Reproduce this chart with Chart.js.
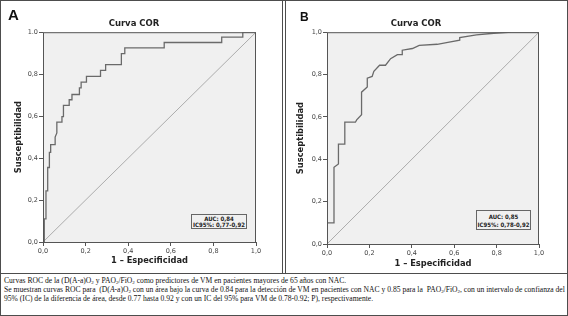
<!DOCTYPE html>
<html><head><meta charset="utf-8">
<script src="https://cdn.jsdelivr.net/npm/chart.js@4.4.1/dist/chart.umd.min.js"></script>
<style>
html,body{margin:0;padding:0;background:#fff;}
#wrap{position:relative;width:568px;height:316px;overflow:hidden;}
.ln{position:absolute;background:#4d4d4d;}
canvas{position:absolute;}
.letter{position:absolute;font-family:"Liberation Sans",Arial,sans-serif;font-weight:bold;color:#111;line-height:1;}
.auc{position:absolute;background:#f0f0f0;border:1px solid #666;box-sizing:border-box;font-family:"DejaVu Sans Condensed","DejaVu Sans",sans-serif;font-weight:bold;font-size:6px;text-align:center;color:#222;white-space:nowrap;}
.cap{position:absolute;left:4px;top:277px;font-family:"Liberation Serif","Times New Roman",serif;font-size:7.6px;line-height:8.8px;white-space:nowrap;color:#111;}
.cap sub{font-size:5px;vertical-align:-1px;line-height:0;}
</style></head>
<body>
<div id="wrap">
  <div class="ln" style="left:0;top:0;width:568px;height:1px"></div>
  <div class="ln" style="left:0;top:315px;width:568px;height:1px"></div>
  <div class="ln" style="left:0;top:0;width:1px;height:316px"></div>
  <div class="ln" style="left:567px;top:0;width:1px;height:316px"></div>
  <div class="ln" style="left:282px;top:0;width:1px;height:273px"></div>
  <div class="ln" style="left:285px;top:0;width:1px;height:273px"></div>
  <div class="ln" style="left:0;top:273px;width:568px;height:1px"></div>

  <canvas id="cA" width="280" height="270" style="left:1px;top:1px;width:280px;height:270px"></canvas>
  <canvas id="cB" width="281" height="270" style="left:286px;top:1px;width:281px;height:270px"></canvas>

  <div class="letter" style="left:8px;top:7px;font-size:15px">A</div>
  <div class="letter" style="left:300px;top:11px;font-size:12px">B</div>

  <div class="auc" style="left:191px;top:214px;width:56px;height:15px;line-height:6.5px;padding-top:0.5px">AUC: 0,84<br>IC95%: 0,77-0,92</div>
  <div class="auc" style="left:476px;top:210px;width:55px;height:20px;line-height:7.5px;padding-top:2px">AUC: 0,85<br>IC95%: 0,78-0,92</div>

  <div class="cap">Curvas ROC de la (D(A-a)O<sub>2</sub> y PAO<sub>2</sub>/FiO<sub>2</sub> como predictores de VM en pacientes mayores de 65 años con NAC.<br>Se muestran curvas ROC para&nbsp; (D(<i>A</i>-a)O<sub>2</sub> con un área bajo la curva de 0.84 para la detección de VM en pacientes con NAC y 0.85 para la&nbsp; PAO<sub>2</sub>/FiO<sub>2</sub>, con un intervalo de confianza del<br>95% (IC) de la diferencia de área, desde 0.77 hasta 0.92 y con un IC del 95% para VM de 0.78-0.92; P), respectivamente.</div>
</div>
<script>
// ---- data ----
const rocA_x = [0, 0.006, 0.006, 0.014, 0.014, 0.022, 0.022, 0.030, 0.030, 0.036, 0.036, 0.057, 0.057, 0.065, 0.065, 0.089, 0.089, 0.096, 0.096, 0.123, 0.123, 0.136, 0.136, 0.171, 0.171, 0.179, 0.179, 0.204, 0.204, 0.270, 0.270, 0.294, 0.294, 0.368, 0.368, 0.384, 0.384, 0.569, 0.569, 0.839, 0.839, 0.938, 0.938, 1.0];
const rocA_y = [0, 0.000, 0.110, 0.110, 0.244, 0.244, 0.355, 0.355, 0.427, 0.427, 0.464, 0.464, 0.500, 0.520, 0.571, 0.571, 0.598, 0.598, 0.651, 0.651, 0.678, 0.678, 0.703, 0.703, 0.735, 0.735, 0.762, 0.762, 0.789, 0.789, 0.818, 0.818, 0.845, 0.845, 0.898, 0.898, 0.925, 0.925, 0.951, 0.951, 0.977, 0.977, 1.0, 1.0];
const rocB_x = [0, 0, 0.033, 0.033, 0.054, 0.054, 0.084, 0.084, 0.134, 0.140, 0.163, 0.163, 0.190, 0.190, 0.213, 0.221, 0.248, 0.276, 0.300, 0.332, 0.355, 0.355, 0.403, 0.435, 0.520, 0.570, 0.626, 0.626, 0.705, 0.787, 0.871, 1.0];
const rocB_y = [0, 0.100, 0.100, 0.362, 0.378, 0.472, 0.472, 0.575, 0.575, 0.586, 0.610, 0.717, 0.741, 0.783, 0.791, 0.815, 0.844, 0.844, 0.875, 0.894, 0.894, 0.915, 0.923, 0.938, 0.943, 0.952, 0.962, 0.975, 0.987, 0.995, 1.0, 1.0];
const diag_x = [0, 1];
const diag_y = [0, 1];
const xTickLabels = ['0,0', '0,2', '0,4', '0,6', '0,8', '1,0'];
const yTickLabelsA = ['0,0', '0,2', '0,4', '0,6', '0,8', '1.0'];
const yTickLabelsB = ['0,0', '0,2', '0,4', '0,6', '0,8', '1,0'];
const titleText = 'Curva COR';
const xTitle = '1 – Especificidad';
const yTitle = 'Susceptibilidad';

const pts = (xs, ys) => xs.map((x, i) => ({x: x, y: ys[i]}));

const frame = {
  id: 'frame',
  beforeDatasetsDraw(chart) {
    const {ctx, chartArea: a} = chart;
    ctx.save();
    ctx.fillStyle = '#f0f0f0';
    ctx.fillRect(a.left, a.top, a.right - a.left, a.bottom - a.top);
    ctx.restore();
  },
  afterDatasetsDraw(chart) {
    const {ctx, chartArea: a} = chart;
    ctx.save();
    ctx.strokeStyle = '#555';
    ctx.lineWidth = 1;
    ctx.strokeRect(a.left + 0.5, a.top + 0.5, a.right - a.left - 1, a.bottom - a.top);
    ctx.restore();
  }
};

function make(id, xs, ys, yLabels, g) {
  const axisFont = {family: 'DejaVu Sans', size: 8.3, weight: 'bold'};
  const tickFont = {family: 'DejaVu Sans', size: 6.5};
  new Chart(document.getElementById(id), {
    type: 'scatter',
    data: {
      datasets: [
        {data: pts(xs, ys), showLine: true, borderColor: '#6a6a6a', borderWidth: 1.3, pointRadius: 0, tension: 0, order: 1},
        {data: pts(diag_x, diag_y), showLine: true, borderColor: '#9a9a9a', borderWidth: 0.8, pointRadius: 0, order: 2}
      ]
    },
    options: {
      responsive: false, animation: false, events: [],
      layout: {padding: {left: g.pl, right: g.pr, top: g.pt, bottom: g.pb}},
      plugins: {
        legend: {display: false}, tooltip: {enabled: false},
        title: {display: true, text: titleText, color: '#222', font: {family: 'DejaVu Sans', size: 8.5, weight: 'bold'}, padding: {top: 0, bottom: g.tpb}}
      },
      scales: {
        x: {
          type: 'linear', min: 0, max: 1,
          afterFit: s => { s.height = g.xh; },
          ticks: {stepSize: 0.2, color: '#444', font: tickFont, padding: 1, maxRotation: 0,
                  callback: (v, i) => xTickLabels[Math.round(v * 5)]},
          grid: {drawOnChartArea: false, drawTicks: true, tickLength: 4, color: '#555'},
          border: {color: '#555'},
          title: {display: true, text: xTitle, color: '#222', font: axisFont, padding: {top: 0, bottom: g.xtb}}
        },
        y: {
          type: 'linear', min: 0, max: 1,
          afterFit: s => { s.width = g.yw; },
          ticks: {stepSize: 0.2, color: '#444', font: tickFont, padding: 1,
                  callback: (v) => yLabels[Math.round(v * 5)]},
          grid: {drawOnChartArea: false, drawTicks: true, tickLength: 4, color: '#555'},
          border: {color: '#555'},
          title: {display: true, text: yTitle, color: '#222', font: axisFont, padding: {top: g.ytp, bottom: 0}}
        }
      }
    },
    plugins: [frame]
  });
}

// chartArea A: x 43..254, y 32..241 (page coords)
make('cA', rocA_x, rocA_y, yTickLabelsA, {pl: 11, pr: 25, pt: 18, pb: 4, tpb: 3, xh: 25, yw: 31, xtb: 1.5, ytp: 1.6});
// chartArea B: x 327..538, y 32..243 (canvas starts at 286)
make('cB', rocB_x, rocB_y, yTickLabelsB, {pl: 7, pr: 28, pt: 18, pb: 1, tpb: 3, xh: 26, yw: 34, xtb: 1, ytp: 2.5});
</script>
</body></html>
